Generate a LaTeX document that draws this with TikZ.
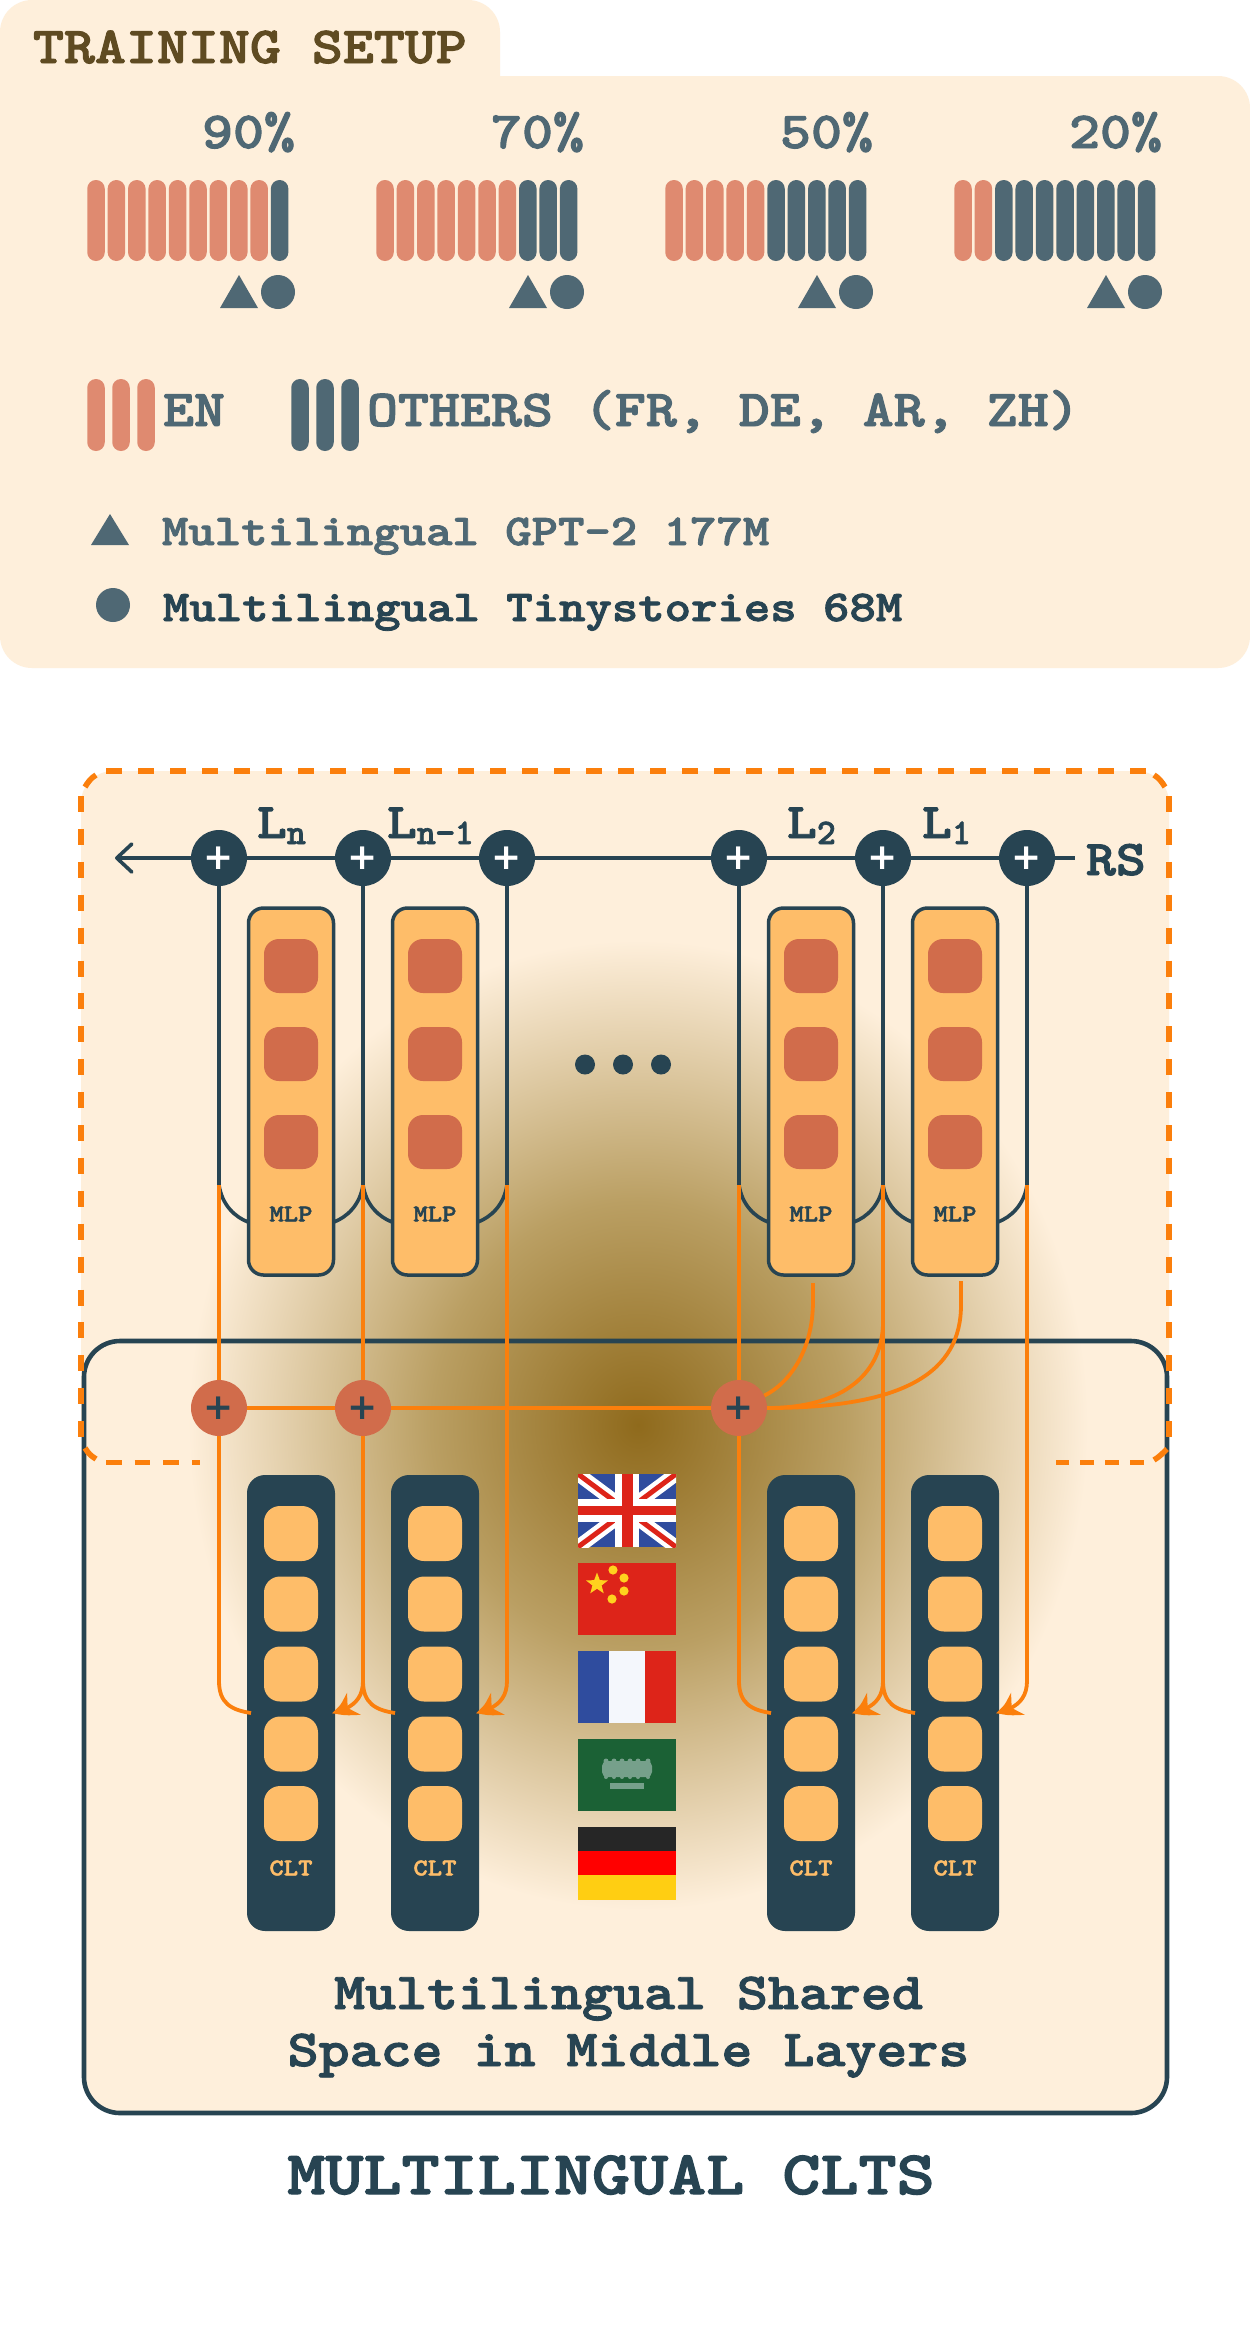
\documentclass[tikz,border=0pt]{standalone}
\usepackage{fontspec}
\usepackage{graphicx}
\usetikzlibrary{arrows.meta,bending,shapes.geometric,calc}
\newfontfamily\plusf{DejaVu Sans}
\newfontfamily\twf[Extension=.otf,FakeBold=1.8]{lmmonolt10-bold}
\definecolor{cream}{HTML}{FEEFDB}
\definecolor{ink}{HTML}{274452}
\definecolor{slate}{HTML}{4F6874}
\definecolor{salmon}{HTML}{DF8A70}
\definecolor{brownt}{HTML}{5F4B22}
\definecolor{amber}{HTML}{FEBD69}
\definecolor{terra}{HTML}{D16C4B}
\definecolor{flow}{HTML}{FB7F0C}
\definecolor{glowc}{HTML}{8F6A1C}
\definecolor{glowm}{HTML}{BA9F63}
\definecolor{fred}{HTML}{DD2419}
\definecolor{fblue}{HTML}{2F4C9E}
\definecolor{fgold}{HTML}{FFD21E}
\definecolor{fgreen}{HTML}{1B6135}
\definecolor{fsage}{HTML}{76A08B}
\definecolor{fblack}{HTML}{262626}
\definecolor{fpure}{HTML}{FF0000}
\definecolor{fyel}{HTML}{FFCE12}
\definecolor{fwhite}{HTML}{F4F7FC}
\pgfdeclareradialshading{glow}{\pgfpoint{0bp}{0bp}}{color(0bp)=(glowc); color(11.5bp)=(glowm); color(25bp)=(cream); color(50bp)=(cream)}
\newcommand{\tw}[3]{\scalebox{#2}[1]{\fontsize{#1pt}{#1pt}\selectfont\twf #3}}
\newcommand{\Lsub}[2]{\tw{50}{1.14}{#1}\raisebox{-6pt}{\tw{36}{1.0}{#2}}}
\tikzset{
  x=1pt,y=-1pt,
  txt/.style={inner sep=0pt,outer sep=0pt},
  barnode/.style={rectangle,draw=none,rounded corners=8.7pt,minimum width=17.5pt,inner sep=0pt},
  tall/.style={barnode,minimum height=81pt},
  legbar/.style={barnode,minimum height=72pt},
  dot/.style={circle,fill=slate,minimum size=34pt,inner sep=0pt},
  sumd/.style={circle,fill=ink,text=white,minimum size=56pt,inner sep=0pt,font=\plusf\bfseries\fontsize{36pt}{36pt}\selectfont},
  sumo/.style={circle,fill=terra,text=ink,minimum size=56pt,inner sep=0pt,font=\plusf\bfseries\fontsize{36pt}{36pt}\selectfont},
  mlpbox/.style={rectangle,draw=ink,line width=3.5pt,fill=amber,rounded corners=15pt,minimum width=85pt,minimum height=367pt,inner sep=0pt},
  mlpcell/.style={rectangle,fill=terra,rounded corners=15pt,minimum width=54pt,minimum height=54pt,inner sep=0pt},
  cltbox/.style={rectangle,fill=ink,rounded corners=18pt,minimum width=88pt,minimum height=456pt,inner sep=0pt},
  cltcell/.style={rectangle,fill=amber,rounded corners=16pt,minimum width=54pt,minimum height=55pt,inner sep=0pt},
  dk/.style={draw=ink,line width=3.6pt},
  org/.style={draw=flow,line width=3.8pt},
  headed/.style={-{Stealth[length=25pt,width=25pt,bend]}},
  frame/.style={draw=flow,line width=5.6pt},
}
\begin{document}
\begin{tikzpicture}
\useasboundingbox (0,0) rectangle (1250,2332);
\fill[white] (0,0) rectangle (1250,2332);
% ---- training setup panel
\fill[cream] [rounded corners=32pt] (0,668) -- (0,0) -- (500,0) [sharp corners] -- (500,76) [rounded corners=32pt] -- (1250,76) -- (1250,668) -- cycle;
\node[txt,anchor=base west,text=brownt] (title) at (33,63) {\tw{52}{1.135}{TRAINING SETUP}};
\foreach \g/\n/\lab in {0/9/90,1/7/70,2/5/50,3/2/20}{
  \node[txt,anchor=base east,text=slate] (pct\g) at ({295+289*\g},148) {\tw{52}{1.135}{\lab\%}};
  \foreach \i in {0,...,9}{
    \ifnum\i<\n \def\c{salmon}\else\def\c{slate}\fi
    \node[tall,fill=\c] (bar\g-\i) at ({96+289*\g+20.4*\i},220.5) {};
  }
  \fill[slate] ({220+289*\g},308) -- ({258+289*\g},308) -- ({239+289*\g},275) -- cycle;
  \node[dot] (circ\g) at ({278+289*\g},292) {};
}
\foreach \x/\k in {96/a,121/b,146/c}{\node[legbar,fill=salmon] (en\k) at (\x,415) {};}
\foreach \x/\k in {300/a,325/b,350/c}{\node[legbar,fill=slate] (ot\k) at (\x,415) {};}
\node[txt,anchor=base west,text=slate] (enl) at (163,426) {\tw{52}{1.135}{EN}};
\node[txt,anchor=base west,text=slate] (otl) at (367,426) {\tw{52}{1.135}{OTHERS (FR, DE, AR, ZH)}};
\fill[slate] (91,545) -- (129,545) -- (110,514) -- cycle;
\node[txt,anchor=base west,text=slate] (gpt) at (162,545) {\tw{44}{1.143}{Multilingual GPT-2 177M}};
\node[dot] (legc) at (113,605) {};
\node[txt,anchor=base west,text=ink] (tiny) at (163,621) {\tw{44}{1.143}{Multilingual Tinystories 68M}};
% ---- lower frames
\fill[cream,rounded corners=32pt] (81,771) rectangle (1169,1462.5);
\fill[cream,rounded corners=36pt] (84,1341) rectangle (1167,2113);
\shade[shading=glow] (638,1425) ellipse [x radius=450pt,y radius=485pt];
\draw[ink,line width=4.6pt,rounded corners=36pt] (84,1341) rectangle (1167,2113);
% ---- replacement stack
\foreach \k/\x in {1/219,2/363,3/507,4/739,5/883,6/1027}{
  \node[sumd] (p\k) at (\x,858) {+};
  \coordinate (j\k) at (\x,1185);
  \coordinate (b\k) at (\x,1681);
}
\coordinate (tail) at (115,858);
\coordinate (rsend) at (1075,858);
\draw[dk,-{Straight Barb[length=15pt,width=28pt,round]}] (p1) -- (tail);
\draw[dk] (p1) -- (p2);
\draw[dk] (p2) -- (p3);
\draw[dk] (p3) -- (p4);
\draw[dk] (p4) -- (p5);
\draw[dk] (p5) -- (p6);
\draw[dk] (p6) -- (rsend);
\foreach \k in {1,...,6}{\draw[dk] (p\k) -- (j\k);}
% curves into the MLP sides
\foreach \k/\x in {1/291,2/435,3/811,4/955}{
  \coordinate (ml\k) at ({\x-43},1222);
  \coordinate (mr\k) at ({\x+43},1222);
}
\foreach \a/\m in {1/1,2/2,4/3,5/4}{
  \draw[dk] (j\a) .. controls ($(j\a)+(3,20)$) and ($(ml\m)+(-13,-5)$) .. (ml\m);
}
\foreach \a/\m in {2/1,3/2,5/3,6/4}{
  \draw[dk] (j\a) .. controls ($(j\a)+(-3,20)$) and ($(mr\m)+(13,-5)$) .. (mr\m);
}
\foreach \k/\x in {1/291,2/435,3/811,4/955}{
  \node[mlpbox] (m\k) at (\x,1091.5) {};
  \foreach \r/\y in {a/966,b/1054,c/1142}{\node[mlpcell] (m\k\r) at (\x,\y) {};}
  \node[txt,text=ink] (ml\k t) at (\x,1214) {\tw{24}{1.14}{MLP}};
}
\foreach \k/\x in {1/585,2/623,3/661}{\fill[ink] (\x,1064.5) circle [radius=10pt];}
% ---- CLT columns
\foreach \k/\x in {1/291,2/435,3/811,4/955}{
  \node[cltbox] (c\k) at (\x,1703) {};
  \foreach \r/\y in {a/1533.5,b/1604,c/1674,d/1744,e/1813.5}{\node[cltcell] (c\k\r) at (\x,\y) {};}
  \node[txt,text=amber] (c\k t) at (\x,1868) {\tw{24}{1.14}{CLT}};
  \coordinate (cl\k) at ({\x-40},1713);
  \coordinate (cr\k) at ({\x+41},1713);
}
% ---- orange wires
\node[sumo] (q1) at (219,1408) {+};
\node[sumo] (q2) at (363,1408) {+};
\node[sumo] (q3) at (739,1408) {+};
\draw[org] (j1) -- (q1);
\draw[org] (j2) -- (q2);
\draw[org] (j4) -- (q3);
\draw[org] (q1) -- (b1);
\draw[org] (q2) -- (b2);
\draw[org] (q3) -- (b4);
\draw[org] (j3) -- (b3);
\draw[org] (j5) -- (b5);
\draw[org] (j6) -- (b6);
\draw[org] (q1) -- (q2);
\draw[org] (q2) -- (q3);
\foreach \a/\m in {1/1,2/2,4/3,5/4}{
  \draw[org] (b\a) .. controls ($(b\a)+(0,22)$) and ($(cl\m)+(-20,-3)$) .. (cl\m);
}
\foreach \a/\m in {2/1,3/2,5/3,6/4}{
  \draw[org,headed] (b\a) .. controls ($(b\a)+(0,20)$) and ($(cr\m)+(18,-4)$) .. (cr\m);
}
\coordinate (u1) at (813,1283);
\coordinate (u2) at (961,1281);
\coordinate (v2) at (883,1322);
\draw[org] (u1) -- ++(0,18) .. controls (813,1352) and (788,1384) .. (q3);
\draw[org] (v2) .. controls (883,1372) and (845,1408) .. (q3.east);
\draw[org] (u2) -- ++(0,24) .. controls (961,1372) and (905,1408) .. (q3.east);
% ---- dashed frame, side by side as the picture draws it
\draw[frame,dash pattern=on 16pt off 16pt] (106,771) -- (1146,771);
\draw[frame,dash pattern=on 16pt off 16.9pt] (81,796) -- (81,1437);
\draw[frame,dash pattern=on 16pt off 16.9pt] (1169,796) -- (1169,1438);
\draw[frame] (85,787) .. controls (88,782) and (91,778) .. (96,775);
\draw[frame] (1154,775) .. controls (1159,778) and (1162,782) .. (1165,787);
\draw[frame] (85,1448) .. controls (88,1453) and (91,1456) .. (96,1459);
\draw[frame] (1154,1460) .. controls (1159,1457) and (1162,1454) .. (1167,1449);
\draw[frame,dash pattern=on 15.5pt off 13.2pt] (106,1462.5) -- (200,1462.5);
\draw[frame,dash pattern=on 14pt off 11pt] (1144,1462.5) -- (1056,1462.5);
% ---- labels of the layers
\node[txt,anchor=base west,text=ink] (ln) at (257,838) {\Lsub{L}{n}};
\node[txt,anchor=base west,text=ink] (ln1) at (387,838) {\Lsub{L}{n−1}};
\node[txt,anchor=base west,text=ink] (l2) at (787,838) {\Lsub{L}{2}};
\node[txt,anchor=base west,text=ink] (l1) at (922,838) {\Lsub{L}{1}};
\node[txt,anchor=base west,text=ink] (rs) at (1086,875) {\tw{50}{1.14}{RS}};
% ---- flags
\begin{scope}
\clip (578,1474) rectangle (676,1547);
\fill[fblue] (578,1474) rectangle (676,1547);
\draw[white,line width=14pt] (578,1474) -- (676,1547) (578,1547) -- (676,1474);
\draw[fred,line width=5pt] (578,1474) -- (676,1547) (578,1547) -- (676,1474);
\fill[white] (615,1474) rectangle (639,1547);
\fill[white] (578,1499) rectangle (676,1522);
\fill[fred] (621.5,1474) rectangle (632.5,1547);
\fill[fred] (578,1506) rectangle (676,1515);
\end{scope}
\fill[fred] (578,1563) rectangle (676,1635);
\node[star,star points=5,star point ratio=2.4,fill=fgold,minimum size=23pt,inner sep=0pt] (bigstar) at (597,1584) {};
\foreach \x/\y in {613/1570,624/1578,624/1591,612/1599}{\fill[fgold] (\x,\y) circle [radius=4.6pt];}
\fill[fblue] (578,1651) rectangle (609,1723);
\fill[fwhite] (609,1651) rectangle (645,1723);
\fill[fred] (645,1651) rectangle (676,1723);
\fill[fgreen] (578,1739) rectangle (676,1811);
\fill[fsage,rounded corners=5pt] (602,1761) rectangle (652,1777);
\foreach \x in {606,614,622,630,638,648}{\fill[fsage] (\x,1761) circle [radius=2.5pt];\fill[fsage] (\x,1777) circle [radius=2pt];}
\fill[fsage] (610,1783) rectangle (644,1789);
\fill[fblack] (578,1827) rectangle (676,1851);
\fill[fpure] (578,1851) rectangle (676,1875);
\fill[fyel] (578,1875) rectangle (676,1900);
% ---- captions
\node[txt,anchor=base,text=ink] (cap1) at (628.5,2009) {\tw{52}{1.135}{Multilingual Shared}};
\node[txt,anchor=base,text=ink] (cap2) at (628.5,2066) {\tw{52}{1.135}{Space in Middle Layers}};
\node[txt,anchor=base,text=ink] (cap3) at (611,2194) {\tw{62}{1.17}{MULTILINGUAL CLTS}};
\end{tikzpicture}
\end{document}
